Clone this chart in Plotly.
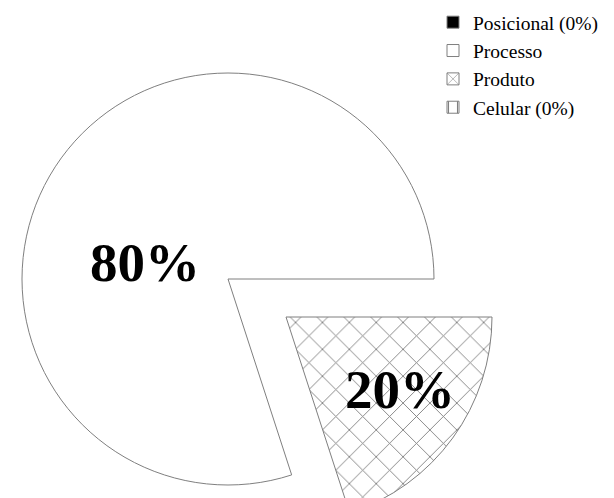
import plotly.graph_objects as go

# ---- data ----
labels = ["Posicional (0%)", "Processo", "Produto", "Celular (0%)"]
values = [0, 80, 20, 0]

# ---- styles ----
W, H = 614, 530
edge = "#7f7f7f"
hatch = "#7a7a7a"
clear = "rgba(0,0,0,0)"
fill_colors = ["black", "white", "white", "white"]
pattern_shapes = ["", "", "x", "|"]
serif = "Liberation Serif"


def dom_x(cx, r):
    return [(cx - r) / W, (cx + r) / W]


def dom_y(cy, r):
    return [(H - (cy + r)) / H, (H - (cy - r)) / H]


R = 206
main_c = (228, 279)
pull_c = (286, 317)
total = sum(values)

common = dict(
    labels=labels,
    values=values,
    sort=False,
    direction="counterclockwise",
    rotation=90,
    hoverinfo="skip",
    textinfo="none",
)

fig = go.Figure()

# legend carrier (full styles for the legend entries)
fig.add_trace(go.Pie(
    **common,
    marker=dict(colors=fill_colors,
                line=dict(color=edge, width=1),
                pattern=dict(shape=pattern_shapes, fgcolor=edge, bgcolor="white",
                             size=9, solidity=0.12)),
    domain=dict(x=[0.95, 1.0], y=[0.0, 0.008]),
    showlegend=True,
))

# main pie (Processo)
fig.add_trace(go.Pie(
    **common,
    marker=dict(colors=[clear, "white", clear, clear],
                line=dict(color=[clear, edge, clear, clear], width=[0, 1, 0, 0])),
    domain=dict(x=dom_x(main_c[0], R), y=dom_y(main_c[1], R)),
    showlegend=False,
))

# pulled slice (Produto)
fig.add_trace(go.Pie(
    **common,
    marker=dict(colors=[clear, clear, "white", clear],
                line=dict(color=[clear, clear, edge, clear], width=[0, 0, 1, 0]),
                pattern=dict(shape=["", "", "x", ""], fgcolor=hatch, bgcolor="white",
                             size=19, solidity=0.09)),
    domain=dict(x=dom_x(pull_c[0], R), y=dom_y(pull_c[1], R)),
    showlegend=False,
))

# percentage labels
label_pos = {"Processo": (145, 262), "Produto": (400, 389)}
for lab, (px, py) in label_pos.items():
    v = values[labels.index(lab)]
    fig.add_annotation(
        x=px / W, y=(H - py) / H, xref="paper", yref="paper",
        text=f"{v / total:.0%}", showarrow=False,
        xanchor="center", yanchor="middle",
        font=dict(family=serif, size=55, color="black", weight="bold"),
    )

fig.update_layout(
    width=W, height=H, autosize=False,
    margin=dict(l=0, r=0, t=0, b=0),
    paper_bgcolor="white", plot_bgcolor="white",
    legend=dict(x=433 / W, y=1 - 3 / H, xanchor="left", yanchor="top",
                font=dict(family=serif, size=19.5, color="black"),
                bgcolor="rgba(0,0,0,0)", itemwidth=30, traceorder="normal"),
)

fig.write_html(
    "out.html",
    post_script="document.documentElement.style.overflow='hidden';document.body.style.overflow='hidden';",
)
